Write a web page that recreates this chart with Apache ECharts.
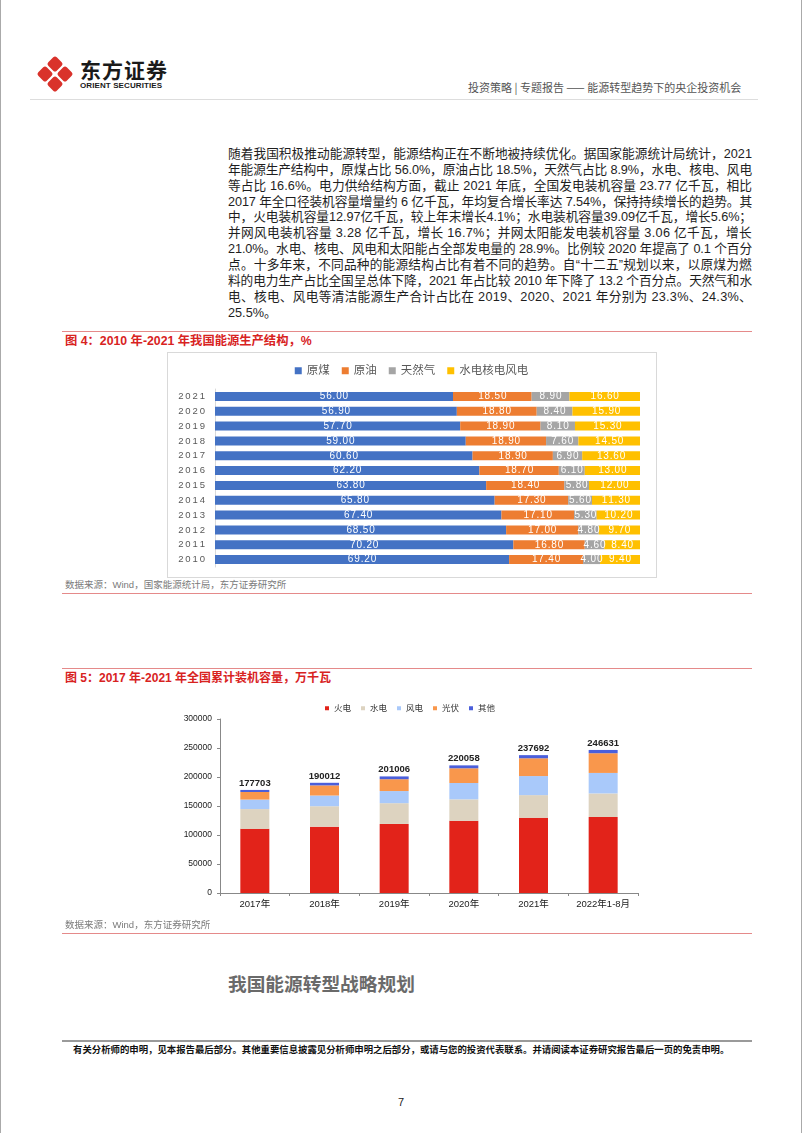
<!DOCTYPE html>
<html><head><meta charset="utf-8">
<script src="https://cdn.jsdelivr.net/npm/echarts@6/dist/echarts.min.js"></script>
<style>
html,body{margin:0;padding:0;background:#fff;}
body{width:802px;height:1133px;position:relative;overflow:hidden;font-family:"Liberation Sans","Noto Sans CJK SC",sans-serif;}
.abs{position:absolute;white-space:nowrap;}
.ln{position:absolute;left:228px;font-size:12.7px;line-height:15.9px;height:15.9px;color:#1e1e1e;white-space:nowrap;}
.rule{position:absolute;left:62px;width:690px;height:1px;background:#e58a8a;}
.ftitle{position:absolute;left:65px;font-size:12px;font-weight:bold;color:#d8231f;line-height:14px;white-space:nowrap;}
.src{position:absolute;left:65px;font-size:9.5px;color:#7a7a7a;line-height:12px;white-space:nowrap;}
</style></head>
<body>
<div style="position:absolute;left:0;top:0;width:1px;height:1133px;background:#aaa"></div>
<div style="position:absolute;right:0;top:0;width:1px;height:1133px;background:#aaa"></div>
<svg style="position:absolute;left:36px;top:54px" width="38" height="40" viewBox="0 0 38 40">
  <g fill="#d9322b">
    <rect x="-6" y="-6" width="12" height="12" rx="2.5" transform="translate(19,10) rotate(45)"/>
    <rect x="-6" y="-6" width="12" height="12" rx="2.5" transform="translate(19,30) rotate(45)"/>
    <rect x="-6" y="-6" width="12" height="12" rx="2.5" transform="translate(9,20) rotate(45)"/>
    <rect x="-6" y="-6" width="12" height="12" rx="2.5" transform="translate(29,20) rotate(45)"/>
  </g>
</svg>
<div class="abs" style="left:80px;top:57px;font-size:21px;font-weight:bold;color:#1a1a1a;letter-spacing:1px;font-family:'Noto Sans CJK SC';line-height:24px">东方证券</div>
<div class="abs" style="left:80px;top:81px;font-size:8px;font-weight:bold;color:#1a1a1a;line-height:10px;letter-spacing:0.1px">ORIENT SECURITIES</div>
<div class="abs" style="left:468px;top:80px;font-size:11px;color:#555;line-height:14px;font-family:'Noto Sans CJK SC'">投资策略 | 专题报告 —— 能源转型趋势下的央企投资机会</div>
<div style="position:absolute;left:30px;top:99px;width:728px;height:1px;background:#ddd"></div>

<div class="ln j" style="top:147px">随着我国积极推动能源转型，能源结构正在不断地被持续优化。据国家能源统计局统计，2021</div>
<div class="ln j" style="top:163px">年能源生产结构中，原煤占比 56.0%，原油占比 18.5%，天然气占比 8.9%，水电、核电、风电</div>
<div class="ln j" style="top:179px">等占比 16.6%。电力供给结构方面，截止 2021 年底，全国发电装机容量 23.77 亿千瓦，相比</div>
<div class="ln j" style="top:195px">2017 年全口径装机容量增量约 6 亿千瓦，年均复合增长率达 7.54%，保持持续增长的趋势。其</div>
<div class="ln j" style="top:210px">中，火电装机容量12.97亿千瓦，较上年末增长4.1%；水电装机容量39.09亿千瓦，增长5.6%；</div>
<div class="ln j" style="top:226px">并网风电装机容量 3.28 亿千瓦，增长 16.7%；并网太阳能发电装机容量 3.06 亿千瓦，增长</div>
<div class="ln j" style="top:242px">21.0%。水电、核电、风电和太阳能占全部发电量的 28.9%。比例较 2020 年提高了 0.1 个百分</div>
<div class="ln j" style="top:258px">点。十多年来，不同品种的能源结构占比有着不同的趋势。自“十二五”规划以来，以原煤为燃</div>
<div class="ln j" style="top:274px">料的电力生产占比全国呈总体下降，2021 年占比较 2010 年下降了 13.2 个百分点。天然气和水</div>
<div class="ln j" style="top:290px">电、核电、风电等清洁能源生产合计占比在 2019、2020、2021 年分别为 23.3%、24.3%、</div>
<div class="ln" style="top:306px">25.5%。</div>

<div class="rule" style="top:331px"></div>
<div class="ftitle" style="top:334px;font-size:12.3px">图 4：2010 年-2021 年我国能源生产结构，%</div>
<div id="c1" style="position:absolute;left:167px;top:352px;width:489px;height:225px;"></div>
<div style="position:absolute;left:167px;top:352px;width:488px;height:224px;border:1px solid #d9d9d9;pointer-events:none"></div>
<div class="src" style="top:579px">数据来源：Wind，国家能源统计局，东方证券研究所</div>
<div class="rule" style="top:593px"></div>

<div class="rule" style="top:668px"></div>
<div class="ftitle" style="top:671px">图 5：2017 年-2021 年全国累计装机容量，万千瓦</div>
<div id="c2" style="position:absolute;left:160px;top:690px;width:500px;height:230px;"></div>
<div class="src" style="top:919px">数据来源：Wind，东方证券研究所</div>
<div class="rule" style="top:933px"></div>

<div class="abs" style="left:228px;top:972px;font-size:18.7px;font-weight:bold;color:#6a6a6a;line-height:22px;font-family:'Noto Sans CJK SC'">我国能源转型战略规划</div>
<div style="position:absolute;left:62px;top:1040px;width:690px;height:2px;background:#9a9a9a"></div>
<div class="abs" style="left:73px;top:1043px;font-size:9.4px;font-weight:bold;color:#111;line-height:12px;font-family:'Noto Sans CJK SC'">有关分析师的申明，见本报告最后部分。其他重要信息披露见分析师申明之后部分，或请与您的投资代表联系。并请阅读本证券研究报告最后一页的免责申明。</div>
<div class="abs" style="left:398px;top:1095px;font-size:11px;color:#222;line-height:14px">7</div>

<script>
// justify paragraph lines to 524px by letter-spacing
(function(){
  var TARGET = 524;
  var els = document.querySelectorAll('.ln.j');
  for (var i = 0; i < els.length; i++) {
    var el = els[i];
    var w = el.getBoundingClientRect().width;
    var n = el.textContent.length;
    if (n > 1) el.style.letterSpacing = ((TARGET - w) / n) + 'px';
  }
})();

// ---- Figure 4 data (2010 → 2021) ----
var years4 = ['2010','2011','2012','2013','2014','2015','2016','2017','2018','2019','2020','2021'];
var coal   = [69.2, 70.2, 68.5, 67.4, 65.8, 63.8, 62.2, 60.6, 59.0, 57.7, 56.9, 56.0];
var oil    = [17.4, 16.8, 17.0, 17.1, 17.3, 18.4, 18.7, 18.9, 18.9, 18.9, 18.8, 18.5];
var gas    = [4.0, 4.6, 4.8, 5.3, 5.6, 5.8, 6.1, 6.9, 7.6, 8.1, 8.4, 8.9];
var clean  = [9.4, 8.4, 9.7, 10.2, 11.3, 12.0, 13.0, 13.6, 14.5, 15.3, 15.9, 16.6];
var names4 = ['原煤','原油','天然气','水电核电风电'];
var colors4 = ['#4472C4','#ED7D31','#A5A5A5','#FFC000'];

// ---- Figure 5 data ----
var years5  = ['2017年','2018年','2019年','2020年','2021年','2022年1-8月'];
var thermal = [110604, 114408, 119055, 124517, 129678, 131000];
var hydro   = [34119, 35226, 35804, 37016, 39092, 40700];
var wind    = [16367, 18427, 20915, 28153, 32848, 35300];
var solar   = [13025, 17463, 20418, 25343, 30656, 34000];
var other   = [3588, 4488, 4814, 5029, 5418, 5631];
var totals  = [177703, 190012, 201006, 220058, 237692, 246631];
var names5  = ['火电','水电','风电','光伏','其他'];
var colors5 = ['#E2231A','#DDD3C0','#A9C9FA','#F9974C','#4B5FDB'];

var FONT = '"Liberation Sans","Noto Sans CJK SC",sans-serif';

var c1 = echarts.init(document.getElementById('c1'));
var s4 = [coal, oil, gas, clean].map(function(d, i){
  return {
    name: names4[i], type: 'bar', stack: 'a', data: d, barWidth: 9,
    itemStyle: {color: colors4[i]},
    label: {show: true, position: 'inside', color: '#fff', fontSize: 10, fontFamily: FONT,
      formatter: function(p){ return p.value.toFixed(2).split('').join('\u200A'); }}
  };
});
c1.setOption({
  animation: false,
  textStyle: {fontFamily: FONT},
  legend: {top: 8, left: 'center', itemWidth: 7, itemHeight: 7, itemGap: 12, icon: 'rect',
    textStyle: {fontSize: 11.5, color: '#595959', fontFamily: FONT}, data: names4},
  grid: {left: 48, right: 16, top: 37, bottom: 10},
  xAxis: {type: 'value', min: 0, max: 100, show: false},
  yAxis: {type: 'category', data: years4,
    axisLine: {lineStyle: {color: '#d9d9d9'}}, axisTick: {show: false},
    axisLabel: {fontSize: 9.5, color: '#595959', margin: 10, fontFamily: FONT,
      formatter: function(v){ return v.split('').join('\u2009'); }}},
  series: s4
});

var c2 = echarts.init(document.getElementById('c2'));
var s5 = [thermal, hydro, wind, solar, other].map(function(d, i){
  var o = {name: names5[i], type: 'bar', stack: 't', data: d, barWidth: 29,
    itemStyle: {color: colors5[i]}};
  if (i === 4) {
    o.label = {show: true, position: 'top', distance: 2, color: '#222', fontSize: 9.5, fontWeight: 'bold', fontFamily: FONT,
      formatter: function(p){ return String(totals[p.dataIndex]); }};
  }
  return o;
});
c2.setOption({
  animation: false,
  textStyle: {fontFamily: FONT},
  legend: {top: 9, left: 'center', itemWidth: 4, itemHeight: 4, itemGap: 10, icon: 'rect',
    textStyle: {fontSize: 8.5, color: '#333', fontFamily: FONT}, data: names5},
  grid: {left: 60, right: 22, top: 29, bottom: 27},
  xAxis: {type: 'category', data: years5,
    axisLine: {lineStyle: {color: '#888'}}, axisTick: {show: true, length: 3, lineStyle: {color: '#888'}},
    axisLabel: {interval: 0, fontSize: 9.5, color: '#222', margin: 7, fontFamily: FONT}},
  yAxis: {type: 'value', min: 0, max: 300000, interval: 50000,
    axisLine: {show: true, lineStyle: {color: '#888'}}, axisTick: {show: true, length: 3, lineStyle: {color: '#888'}},
    splitLine: {show: false},
    axisLabel: {fontSize: 8.5, color: '#222', margin: 8, fontFamily: FONT,
      formatter: function(v){ return String(v); }}},
  series: s5
});
</script>
</body></html>
